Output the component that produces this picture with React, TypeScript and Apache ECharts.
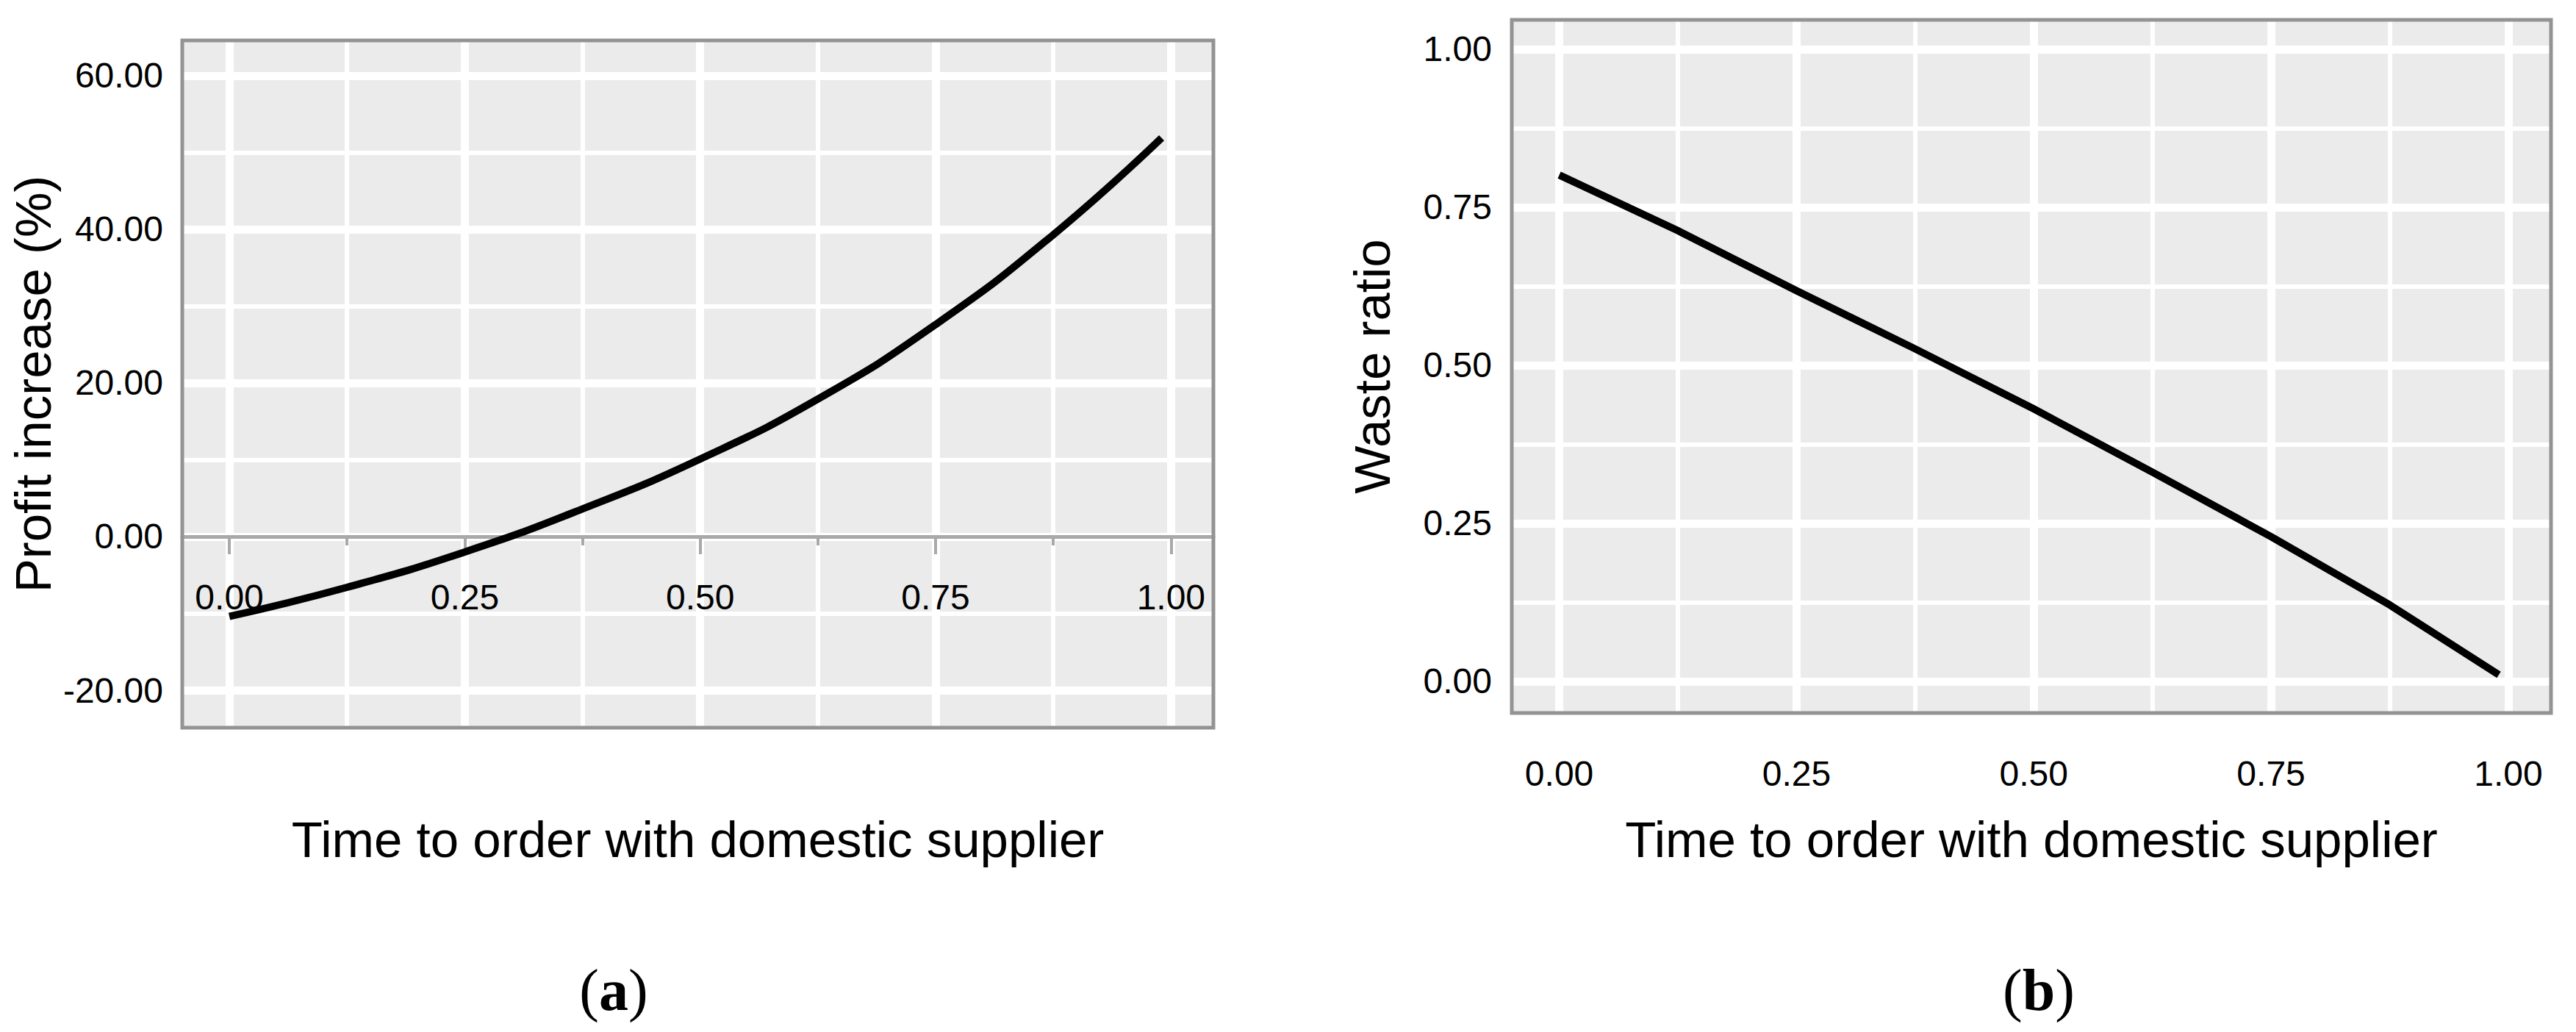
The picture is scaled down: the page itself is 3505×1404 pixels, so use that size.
import React, { useEffect, useRef } from 'react';
import * as echarts from 'echarts';

// ---- data ----
const timeA = [0, 0.125, 0.25, 0.375, 0.5, 0.625, 0.75, 0.875, 0.99];
const profitIncrease = [-10.4, -6.6, -2.0, 3.6, 10.1, 17.9, 27.6, 39.3, 51.9];

const timeB = [0, 0.125, 0.25, 0.375, 0.5, 0.625, 0.75, 0.875, 0.99];
const wasteRatio = [0.801, 0.713, 0.618, 0.526, 0.431, 0.331, 0.229, 0.121, 0.0105];

// ---- ticks ----
const xMajorTicks = [0, 0.25, 0.5, 0.75, 1];
const xMinorTicks = [0.125, 0.375, 0.625, 0.875];
const yMajorTicksA = [-20, 0, 20, 40, 60];
const yMinorTicksA = [-10, 10, 30, 50];
const yMajorTicksB = [0, 0.25, 0.5, 0.75, 1];
const yMinorTicksB = [0.125, 0.375, 0.625, 0.875];

// ---- texts ----
const xTitle = 'Time to order with domestic supplier';
const yTitleA = 'Profit increase (%)';
const yTitleB = 'Waste ratio';
const panelLetters = ['a', 'b'];

// ---- layout / style ----
const W = 3505;
const H = 1404;
const GA = { left: 248, top: 55, width: 1403, height: 935 };
const GB = { left: 2057, top: 27, width: 1414, height: 943 };
const PANEL_BG = '#EBEBEB';
const BORDER = '#939393';
const AXIS_GREY = '#A9A9A9';
const FONT = 'Liberation Sans';
const TICK_FS = 48;
const TITLE_FS = 69;

const fmt = (v: number) => Number(v).toFixed(2);

function majorAxis(extra: any) {
  return {
    type: 'value',
    axisLabel: { show: true, formatter: fmt, fontSize: TICK_FS, color: '#000', fontFamily: FONT },
    splitLine: { show: true, lineStyle: { color: '#FFFFFF', width: 11 } },
    nameLocation: 'middle',
    nameTextStyle: { fontSize: TITLE_FS, color: '#000', fontFamily: FONT },
    ...extra,
  };
}

function minorAxis(extra: any) {
  return {
    type: 'value',
    axisLabel: { show: false },
    splitLine: { show: true, lineStyle: { color: '#FFFFFF', width: 6 } },
    ...extra,
  };
}

function buildOption() {
  const xAxis = [
    // panel a, major (line and ticks sit on y = 0)
    majorAxis({
      gridIndex: 0, min: -0.05, max: 1.045, position: 'bottom',
      axisLine: { show: true, onZero: true, onZeroAxisIndex: 0, lineStyle: { color: AXIS_GREY, width: 5 } },
      axisTick: { show: true, customValues: xMajorTicks, length: 24, lineStyle: { color: AXIS_GREY, width: 4 } },
      axisLabel: { show: true, customValues: xMajorTicks, formatter: fmt, fontSize: TICK_FS, color: '#000', fontFamily: FONT, margin: -202 },
      name: xTitle, nameGap: 118,
    }),
    // panel a, minor
    minorAxis({
      gridIndex: 0, min: -0.05, max: 1.045, position: 'bottom',
      axisLine: { show: false, onZero: true, onZeroAxisIndex: 0 },
      axisTick: { show: true, customValues: xMinorTicks, length: 12, lineStyle: { color: AXIS_GREY, width: 4 } },
    }),
    // panel b, major
    majorAxis({
      gridIndex: 1, min: -0.05, max: 1.045, position: 'bottom',
      axisLine: { show: false, onZero: false },
      axisTick: { show: false, customValues: xMajorTicks },
      axisLabel: { show: true, customValues: xMajorTicks, formatter: fmt, fontSize: TICK_FS, color: '#000', fontFamily: FONT, margin: 58 },
      name: xTitle, nameGap: 138,
    }),
    // panel b, minor
    minorAxis({
      gridIndex: 1, min: -0.05, max: 1.045, position: 'bottom',
      axisLine: { show: false, onZero: false },
      axisTick: { show: false, customValues: xMinorTicks },
    }),
  ];

  const yAxis = [
    majorAxis({
      gridIndex: 0, min: -24.88, max: 64.59, position: 'left',
      axisLine: { show: false, onZero: false },
      axisTick: { show: false, customValues: yMajorTicksA },
      axisLabel: { show: true, customValues: yMajorTicksA, formatter: fmt, fontSize: TICK_FS, color: '#000', fontFamily: FONT, margin: 26, padding: [16, 0, 0, 0] },
      name: yTitleA, nameGap: 168,
    }),
    minorAxis({
      gridIndex: 0, min: -24.88, max: 64.59, position: 'left',
      axisLine: { show: false, onZero: false },
      axisTick: { show: false, customValues: yMinorTicksA },
    }),
    majorAxis({
      gridIndex: 1, min: -0.05, max: 1.0465, position: 'left',
      axisLine: { show: false, onZero: false },
      axisTick: { show: false, customValues: yMajorTicksB },
      axisLabel: { show: true, customValues: yMajorTicksB, formatter: fmt, fontSize: TICK_FS, color: '#000', fontFamily: FONT, margin: 27, padding: [16, 0, 0, 0] },
      name: yTitleB, nameGap: 155,
    }),
    minorAxis({
      gridIndex: 1, min: -0.05, max: 1.0465, position: 'left',
      axisLine: { show: false, onZero: false },
      axisTick: { show: false, customValues: yMinorTicksB },
    }),
  ];

  const gridStyle = { show: true, backgroundColor: PANEL_BG, borderWidth: 0, containLabel: false, outerBoundsMode: 'none' };

  const panelText = (letter: string, cx: number) => ({
    type: 'text',
    z: 100,
    style: {
      text: `{p|(}{b|${letter}}{p|)}`,
      x: cx,
      y: 1347,
      align: 'center',
      verticalAlign: 'middle',
      textAlign: 'center',
      textVerticalAlign: 'middle',
      rich: {
        p: { fontFamily: 'Liberation Serif', fontSize: 80, fill: '#000', color: '#000' },
        b: { fontFamily: 'Liberation Serif', fontSize: 80, fontWeight: 'bold', fill: '#000', color: '#000' },
      },
    },
  });

  const border = (g: any) => ({
    type: 'rect',
    z: 100,
    shape: { x: g.left, y: g.top, width: g.width, height: g.height },
    style: { fill: 'none', stroke: BORDER, lineWidth: 5 },
  });

  return {
    animation: false,
    backgroundColor: '#FFFFFF',
    textStyle: { fontFamily: FONT },
    grid: [
      { ...GA, ...gridStyle },
      { ...GB, ...gridStyle },
    ],
    xAxis,
    yAxis,
    series: [
      {
        type: 'line',
        xAxisIndex: 0,
        yAxisIndex: 0,
        data: timeA.map((x, i) => [x, profitIncrease[i]]),
        smooth: true,
        symbol: 'none',
        showSymbol: false,
        lineStyle: { color: '#000000', width: 10, cap: 'butt' },
        z: 10,
      },
      {
        type: 'line',
        xAxisIndex: 2,
        yAxisIndex: 2,
        data: timeB.map((x, i) => [x, wasteRatio[i]]),
        smooth: false,
        symbol: 'none',
        showSymbol: false,
        lineStyle: { color: '#000000', width: 10, cap: 'butt', join: 'round' },
        z: 10,
      },
    ],
    graphic: [
      border(GA),
      border(GB),
      panelText(panelLetters[0], 835),
      panelText(panelLetters[1], 2774),
    ],
  };
}

export default function App() {
  const ref = useRef<HTMLDivElement>(null);
  useEffect(() => {
    if (!ref.current) return;
    const chart = echarts.init(ref.current, null, { renderer: 'svg', width: W, height: H });
    chart.setOption(buildOption() as any);
    return () => chart.dispose();
  }, []);
  return (
    <div
      ref={ref}
      style={{ position: 'fixed', left: 0, top: 0, width: W, height: H, background: '#FFFFFF' }}
    />
  );
}
